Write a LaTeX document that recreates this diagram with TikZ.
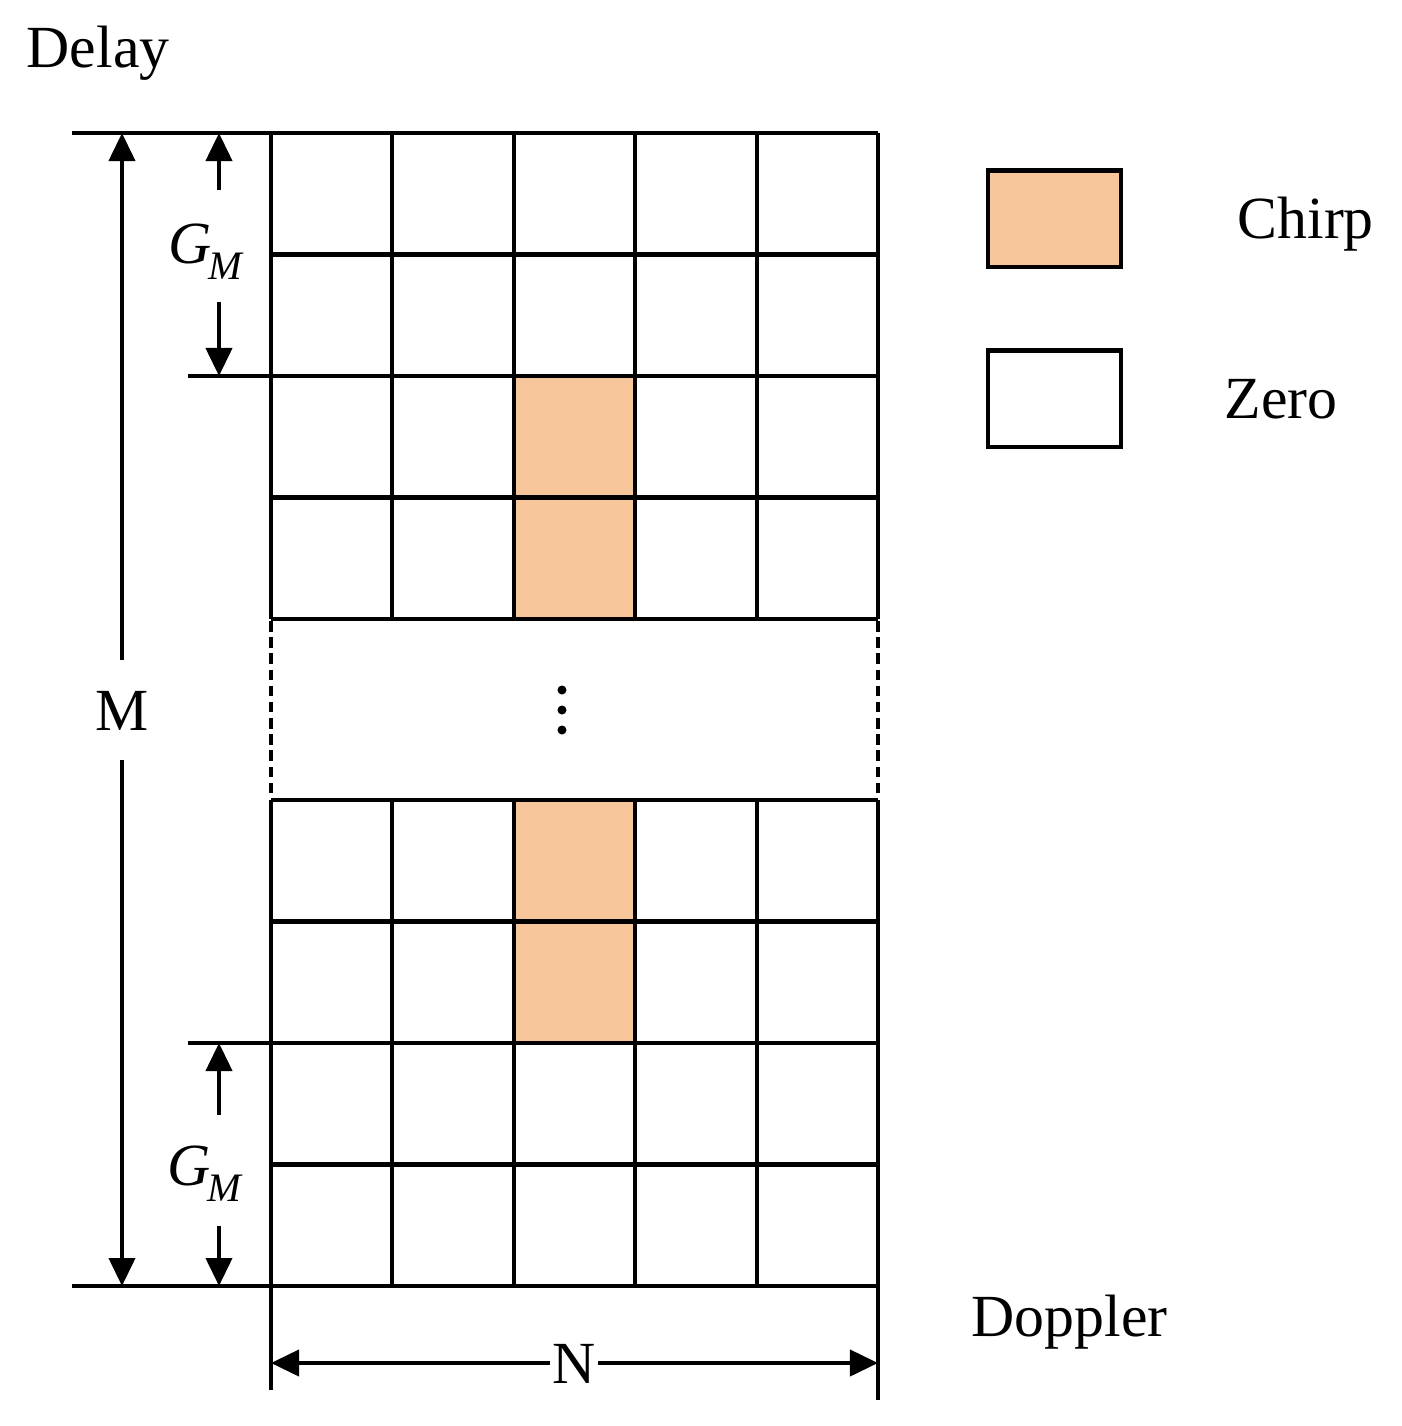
\documentclass[tikz,border=0pt]{standalone}
\usepackage{fontspec}
\setmainfont{Liberation Serif}
\usetikzlibrary{arrows.meta}
\definecolor{chirpfill}{RGB}{248,198,155}
\begin{document}
\begin{tikzpicture}[x=0.01cm,y=-0.01cm,
  ln/.style={line width=1.15pt},
  arr/.style={ln,-{Triangle[length=0.28cm,width=0.26cm]}},
  dsh/.style={line width=0.9pt,dash pattern=on 3pt off 1.6pt},
  lbl/.style={font=\fontsize{17}{20}\selectfont, inner sep=0pt},
  legbox/.style={ln,draw,minimum width=1.32cm,minimum height=0.96cm,inner sep=0pt},
]
\useasboundingbox (0,0) rectangle (1402,1426);
% chirp cells
\fill[chirpfill] (513.8,376) rectangle (635.2,619);
\fill[chirpfill] (513.8,800) rectangle (635.2,1043);
% top block horizontals
\draw[ln] (72,133) -- (878,133);
\draw[ln] (271,254.5) -- (878,254.5);
\draw[ln] (188,376) -- (878,376);
\draw[ln] (271,497.5) -- (878,497.5);
\draw[ln] (271,619) -- (878,619);
% bottom block horizontals
\draw[ln] (271,800) -- (878,800);
\draw[ln] (271,921.5) -- (878,921.5);
\draw[ln] (188,1043) -- (878,1043);
\draw[ln] (271,1164.5) -- (878,1164.5);
\draw[ln] (72,1286) -- (878,1286);
% verticals
\draw[ln] (271,133) -- (271,619);
\draw[ln] (271,800) -- (271,1390);
\draw[ln] (878,133) -- (878,619);
\draw[ln] (878,800) -- (878,1400);
\foreach \x in {392.4,513.8,635.2,756.6}{
  \draw[ln] (\x,133) -- (\x,619);
  \draw[ln] (\x,800) -- (\x,1286);
}
% dashed sides
\draw[dsh] (271,621) -- (271,798);
\draw[dsh] (878,621) -- (878,798);
% vertical dots
\foreach \y in {690,710,730}{ \fill (562,\y) circle (0.045cm); }
% M dimension
\coordinate (mtop) at (122,133);
\coordinate (mbot) at (122,1286);
\node[lbl] (mlabel) at (122,711) {M};
\draw[arr] (122,660) -- (mtop);
\draw[arr] (122,760) -- (mbot);
% top G_M
\coordinate (g1top) at (219,133);
\coordinate (g1bot) at (219,376);
\draw[arr] (219,190) -- (g1top);
\draw[arr] (219,302) -- (g1bot);
\node[lbl,anchor=base west] (gm1) at (168,263) {\textit{G}\kern-1pt\raisebox{-0.16cm}{\fontsize{11.5}{13}\selectfont\textit{M}}};
% bottom G_M
\coordinate (g2top) at (219,1043);
\coordinate (g2bot) at (219,1286);
\draw[arr] (219,1115) -- (g2top);
\draw[arr] (219,1226) -- (g2bot);
\node[lbl,anchor=base west] (gm2) at (167,1185) {\textit{G}\kern-1pt\raisebox{-0.16cm}{\fontsize{11.5}{13}\selectfont\textit{M}}};
% N dimension
\coordinate (nleft) at (271,1363);
\coordinate (nright) at (878,1363);
\node[lbl] (nlabel) at (574,1364) {N};
\draw[arr] (550,1363) -- (nleft);
\draw[arr] (598,1363) -- (nright);
% axis labels
\node[lbl,anchor=base west] (delay) at (26,67) {Delay};
\node[lbl,anchor=base west] (doppler) at (971,1336) {Doppler};
% legend
\node[legbox,fill=chirpfill] (legchirp) at (1054.5,218.5) {};
\node[legbox] (legzero) at (1054.5,398.5) {};
\node[lbl,anchor=base west] (chirptxt) at (1237,238) {Chirp};
\node[lbl,anchor=base west] (zerotxt) at (1224,418) {Zero};
\end{tikzpicture}
\end{document}
